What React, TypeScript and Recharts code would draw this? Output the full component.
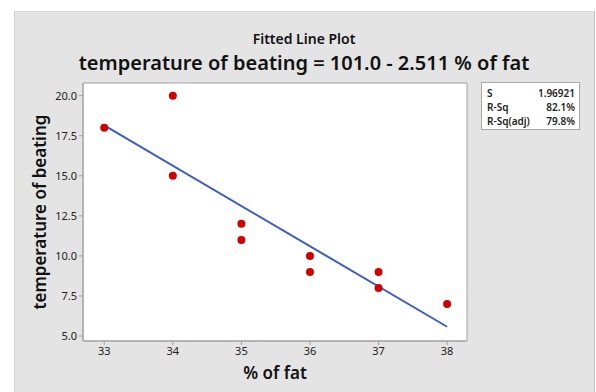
import { ComposedChart, XAxis, YAxis, Scatter, Line, ReferenceArea, Label } from 'recharts'

// % of fat vs temperature of beating
const fatPct = [33, 34, 34, 35, 35, 36, 36, 37, 37, 38]
const beatTemp = [18, 20, 15, 12, 11, 10, 9, 9, 8, 7]

// fitted line end points (101.0 - 2.511 x)
const fitX = [33, 38]
const fitY = [18.14, 5.58]

const xTicks = [33, 34, 35, 36, 37, 38]
const yTicks = [5, 7.5, 10, 12.5, 15, 17.5, 20]

const statNames = ['S', 'R-Sq', 'R-Sq(adj)']
const statValues = ['1.96921', '82.1%', '79.8%']

const X_DOMAIN: [number, number] = [32.69, 38.29]
const Y_DOMAIN: [number, number] = [4.69, 20.79]

const points = fatPct.map((x, i) => ({ x, y: beatTemp[i] }))
const fitLine = fitX.map((x, i) => ({ x, fit: fitY[i] }))

const FONT = '"Noto Sans", "Open Sans", sans-serif'

export default function App() {
  return (
    <div style={{ position: 'absolute', left: 0, top: 0, width: 596, height: 392, background: '#fff', fontFamily: FONT, overflow: 'hidden' }}>
      <div
        style={{
          position: 'absolute', left: 14, top: 11, width: 579, height: 381,
          background: '#e4e4e4', borderLeft: '1px solid #d2d2d2', borderTop: '1px solid #d6d6d6', borderRight: '1px solid #c4c4c4',
        }}
      />
      <div style={{ position: 'absolute', left: 14, width: 580, top: 31, lineHeight: '16px', textAlign: 'center', fontSize: 14, fontWeight: 600, color: '#111' }}>
        Fitted Line Plot
      </div>
      <div style={{ position: 'absolute', left: 14, width: 580, top: 51, lineHeight: '24px', textAlign: 'center', fontSize: 20, fontWeight: 600, color: '#111' }}>
        temperature of beating = 101.0 - 2.511 % of fat
      </div>

      <div style={{ position: 'absolute', left: 0, top: 0 }}>
        <ComposedChart width={596} height={392} margin={{ top: 83, right: 129, bottom: 0, left: 0 }}>
          <XAxis
            type="number"
            dataKey="x"
            domain={X_DOMAIN}
            ticks={xTicks}
            allowDataOverflow
            stroke="#a0a0a0"
            tickSize={4}
            tick={{ fontSize: 11, fill: '#222', fontFamily: FONT }}
            height={51}
          >
            <Label value="% of fat" position="insideTop" offset={26} style={{ fontSize: 17, fontWeight: 600, fill: '#111', fontFamily: FONT }} />
          </XAxis>
          <YAxis
            type="number"
            domain={Y_DOMAIN}
            ticks={yTicks}
            allowDataOverflow
            stroke="#a0a0a0"
            tickSize={4}
            tickFormatter={(v: number) => v.toFixed(1)}
            tick={{ fontSize: 11, fill: '#222', fontFamily: FONT }}
            width={83}
          >
            <Label value="temperature of beating" angle={-90} position="insideLeft" offset={40} style={{ fontSize: 17, fontWeight: 600, fill: '#111', fontFamily: FONT, textAnchor: 'middle' }} />
          </YAxis>
          <ReferenceArea x1={X_DOMAIN[0]} x2={X_DOMAIN[1]} y1={Y_DOMAIN[0]} y2={Y_DOMAIN[1]} fill="#fff" fillOpacity={1} stroke="#a0a0a0" ifOverflow="visible" />
          <Line data={fitLine} dataKey="fit" stroke="#3a5ccc" strokeWidth={2} dot={false} isAnimationActive={false} />
          <Scatter data={points} dataKey="y" fill="#d40000" shape={(p: any) => <circle cx={p.cx} cy={p.cy} r={4} fill="#d40000" />} isAnimationActive={false} />
        </ComposedChart>
      </div>

      <div
        style={{
          position: 'absolute', left: 481, top: 82, width: 99, height: 48, background: '#fff', border: '1px solid #a8a8a8',
          fontSize: 10, fontWeight: 600, color: '#222', padding: '3px 4px 0 5px', boxSizing: 'border-box', lineHeight: '14px',
        }}
      >
        {statNames.map((n, i) => (
          <div key={n} style={{ display: 'flex', justifyContent: 'space-between' }}>
            <span>{n}</span>
            <span>{statValues[i]}</span>
          </div>
        ))}
      </div>
    </div>
  )
}
